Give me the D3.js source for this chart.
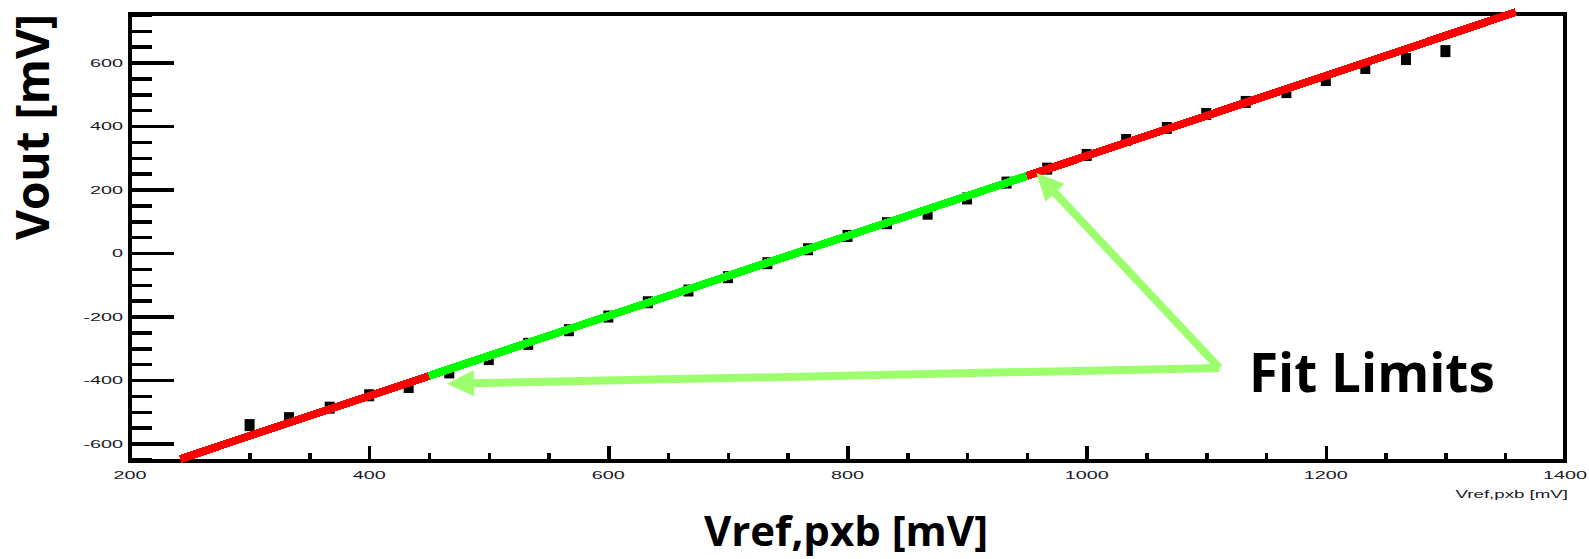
<!DOCTYPE html>
<html lang="en">
<head>
<meta charset="utf-8">
<title>Vout vs Vref,pxb</title>
<script src="https://d3js.org/d3.v7.min.js"></script>
<style>
  body { margin: 0; background: #fff; }
  .tick line { stroke: #000; stroke-width: 3.5; shape-rendering: crispEdges; }
  .small { font-family: "Liberation Sans", Arial, sans-serif; font-size: 11px; fill: #1a1a2a; }
  .big { font-family: "Open Sans", sans-serif; font-weight: bold; fill: #000; }
</style>
</head>
<body>
<script>
// measured points (Vref,pxb in mV, Vout in mV)
var xVals = [300, 333, 367, 400, 433, 467, 500, 533, 567, 600, 633, 667, 700, 733, 767, 800,
             833, 867, 900, 933, 967, 1000, 1033, 1067, 1100, 1133, 1167, 1200, 1233, 1267, 1300];
var yVals = [-542, -520, -487, -448, -422, -376, -334, -286, -243, -200, -155, -118, -76, -32, 12, 54,
             94, 124, 172, 222, 266, 309, 356, 394, 438, 476, 507, 545, 583, 611, 636];

// fitted line: drawn range start, fit limits, drawn range end
var fitX = [242, 450, 950, 1359];
var fitY = [-649, -387, 243, 759];

// annotation arrows (data coords): common origin and the two tips
var arrowFrom = [1111, -362];
var arrowTips = [[465, -412], [958, 252]];

var xTicks = [200, 400, 600, 800, 1000, 1200, 1400];
var yTicks = [-600, -400, -200, 0, 200, 400, 600];

var W = 1589, H = 559;
var plotL = 130, plotR = 1565, plotT = 14, plotB = 461;

var svg = d3.select("body").append("svg")
    .attr("width", W).attr("height", H);

svg.append("rect").attr("width", W).attr("height", H).attr("fill", "#fff");

var x = d3.scaleLinear().domain([200, 1400]).range([plotL, plotR]);
var y = d3.scaleLinear().domain([-655, 753]).range([plotB, plotT]);

var xMinor = d3.range(200, 1401, 50).filter(function(v) { return v % 200 !== 0; });
var yMinor = d3.range(-650, 751, 50).filter(function(v) { return v % 200 !== 0; });

// y ticks, drawn inward from the left edge
svg.append("g").attr("transform", "translate(" + plotL + ",0)")
    .call(d3.axisRight(y).tickValues(yTicks).tickSize(44).tickFormat(""))
    .call(function(g) { g.select(".domain").remove(); });
svg.append("g").attr("transform", "translate(" + plotL + ",0)")
    .call(d3.axisRight(y).tickValues(yMinor).tickSize(22).tickFormat(""))
    .call(function(g) { g.select(".domain").remove(); });

// x ticks, drawn upward from the bottom edge
svg.append("g").attr("transform", "translate(0," + plotB + ")")
    .call(d3.axisTop(x).tickValues(xTicks).tickSize(15).tickFormat(""))
    .call(function(g) { g.select(".domain").remove(); });
svg.append("g").attr("transform", "translate(0," + plotB + ")")
    .call(d3.axisTop(x).tickValues(xMinor).tickSize(8).tickFormat(""))
    .call(function(g) { g.select(".domain").remove(); });

// tick labels (horizontally stretched like the original)
svg.append("g").selectAll("g")
    .data(yTicks).enter().append("g")
    .attr("transform", function(d) { return "translate(123," + (y(d) + 4) + ") scale(1.8,1)"; })
    .append("text").attr("class", "small")
    .attr("text-anchor", "end")
    .text(function(d) { return d; });

svg.append("g").selectAll("g")
    .data(xTicks).enter().append("g")
    .attr("transform", function(d) { return "translate(" + x(d) + ",479) scale(1.8,1)"; })
    .append("text").attr("class", "small")
    .attr("text-anchor", "middle")
    .text(function(d) { return d; });

svg.append("g").attr("transform", "translate(1568,498) scale(1.7,1)")
    .append("text").attr("class", "small")
    .attr("font-size", "9.5px")
    .attr("text-anchor", "end")
    .text("Vref,pxb [mV]");

// frame
svg.append("rect")
    .attr("x", plotL).attr("y", plotT)
    .attr("width", plotR - plotL).attr("height", plotB - plotT)
    .attr("fill", "none").attr("stroke", "#000").attr("stroke-width", 3.5)
    .attr("shape-rendering", "crispEdges");

// data markers
svg.append("g").selectAll("rect")
    .data(xVals).enter().append("rect")
    .attr("x", function(d) { return x(d) - 5; })
    .attr("y", function(d, i) { return y(yVals[i]) - 6; })
    .attr("width", 10).attr("height", 12)
    .attr("fill", "#000");

// fit line: red outside the fit limits, green inside
var segColors = ["#ff0000", "#00ff00", "#ff0000"];
svg.append("g").selectAll("line")
    .data(segColors).enter().append("line")
    .attr("x1", function(d, i) { return x(fitX[i]); })
    .attr("y1", function(d, i) { return y(fitY[i]); })
    .attr("x2", function(d, i) { return x(fitX[i + 1]); })
    .attr("y2", function(d, i) { return y(fitY[i + 1]); })
    .attr("stroke", function(d) { return d; })
    .attr("stroke-width", 8)
    .attr("shape-rendering", "crispEdges");

// annotation arrows
var arrowColor = "#9dff6e";
arrowTips.forEach(function(t) {
  var x0 = x(arrowFrom[0]), y0 = y(arrowFrom[1]);
  var x1 = x(t[0]), y1 = y(t[1]);
  var dx = x1 - x0, dy = y1 - y0, len = Math.sqrt(dx * dx + dy * dy);
  var ux = dx / len, uy = dy / len;
  var headL = 27, headW = 13;
  var bx = x1 - ux * headL, by = y1 - uy * headL;
  svg.append("line")
    .attr("x1", x0).attr("y1", y0)
    .attr("x2", bx + ux * 2).attr("y2", by + uy * 2)
    .attr("stroke", arrowColor).attr("stroke-width", 8);
  svg.append("path")
    .attr("d", "M" + x1 + "," + y1 +
               "L" + (bx - uy * headW) + "," + (by + ux * headW) +
               "L" + (bx + uy * headW) + "," + (by - ux * headW) + "Z")
    .attr("fill", arrowColor);
});

// titles
svg.append("text").attr("class", "big")
    .attr("font-size", "46px")
    .attr("text-anchor", "middle")
    .attr("transform", "translate(49,127) rotate(-90)")
    .text("Vout [mV]");

svg.append("text").attr("class", "big")
    .attr("font-size", "42px")
    .attr("text-anchor", "middle")
    .attr("x", 846).attr("y", 546)
    .text("Vref,pxb [mV]");

svg.append("text").attr("class", "big")
    .attr("font-size", "53px")
    .attr("x", 1249).attr("y", 392)
    .text("Fit Limits");
</script>
</body>
</html>
